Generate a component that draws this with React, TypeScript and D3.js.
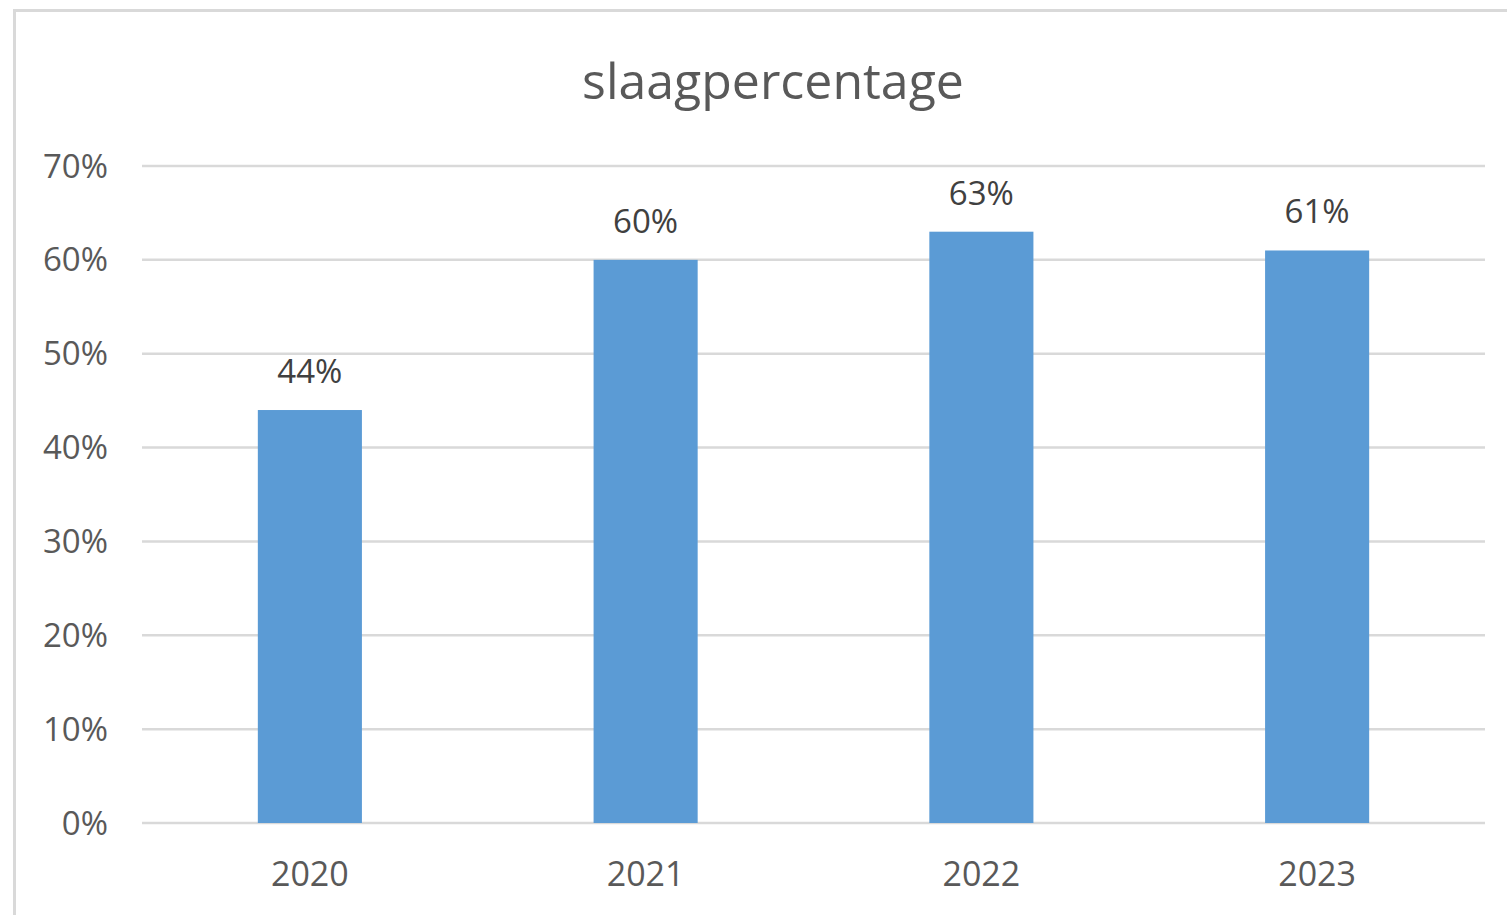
import React from "react";
import * as d3 from "d3";

const categories = ["2020", "2021", "2022", "2023"];
const values = [0.44, 0.6, 0.63, 0.61];
const valueLabels = ["44%", "60%", "63%", "61%"];
const yTicks = [0, 0.1, 0.2, 0.3, 0.4, 0.5, 0.6, 0.7];
const title = "slaagpercentage";

const W = 1507;
const H = 915;
const FONT = "'Open Sans', 'Noto Sans', sans-serif";
const TEXT = "#595959";

export default function App() {
  const x = d3
    .scaleBand<string>()
    .domain(categories)
    .range([142, 1485])
    .paddingInner(0.69)
    .paddingOuter(0.345);
  const y = d3.scaleLinear().domain([0, 0.7]).range([823, 166]);
  const fmt = d3.format(".0%");

  return (
    <svg
      width={W}
      height={H}
      style={{ position: "absolute", left: 0, top: 0, background: "#fff" }}
    >
      <rect x={0} y={0} width={W} height={H} fill="#fff" />
      <rect
        x={14.5}
        y={10.5}
        width={W + 20}
        height={H + 20}
        fill="none"
        stroke="#d9d9d9"
        strokeWidth={3}
      />
      <text
        x={773}
        y={99}
        textAnchor="middle"
        fontFamily={FONT}
        fontSize={50}
        fill={TEXT}
      >
        {title}
      </text>
      {yTicks.map((t) => (
        <g key={t}>
          <line
            x1={142}
            x2={1485}
            y1={y(t)}
            y2={y(t)}
            stroke="#d9d9d9"
            strokeWidth={2.5}
          />
          <text
            x={108}
            y={y(t)}
            dy="0.35em"
            textAnchor="end"
            fontFamily={FONT}
            fontSize={33}
            fill={TEXT}
          >
            {fmt(t)}
          </text>
        </g>
      ))}
      {categories.map((c, i) => (
        <g key={c}>
          <rect
            x={x(c)}
            y={y(values[i])}
            width={x.bandwidth()}
            height={y(0) - y(values[i])}
            fill="#5B9BD5"
          />
          <text
            x={(x(c) as number) + x.bandwidth() / 2}
            y={y(values[i]) - 27}
            textAnchor="middle"
            fontFamily={FONT}
            fontSize={33}
            fill="#404040"
          >
            {valueLabels[i]}
          </text>
          <text
            x={(x(c) as number) + x.bandwidth() / 2}
            y={886}
            textAnchor="middle"
            fontFamily={FONT}
            fontSize={34}
            fill={TEXT}
          >
            {c}
          </text>
        </g>
      ))}
    </svg>
  );
}
